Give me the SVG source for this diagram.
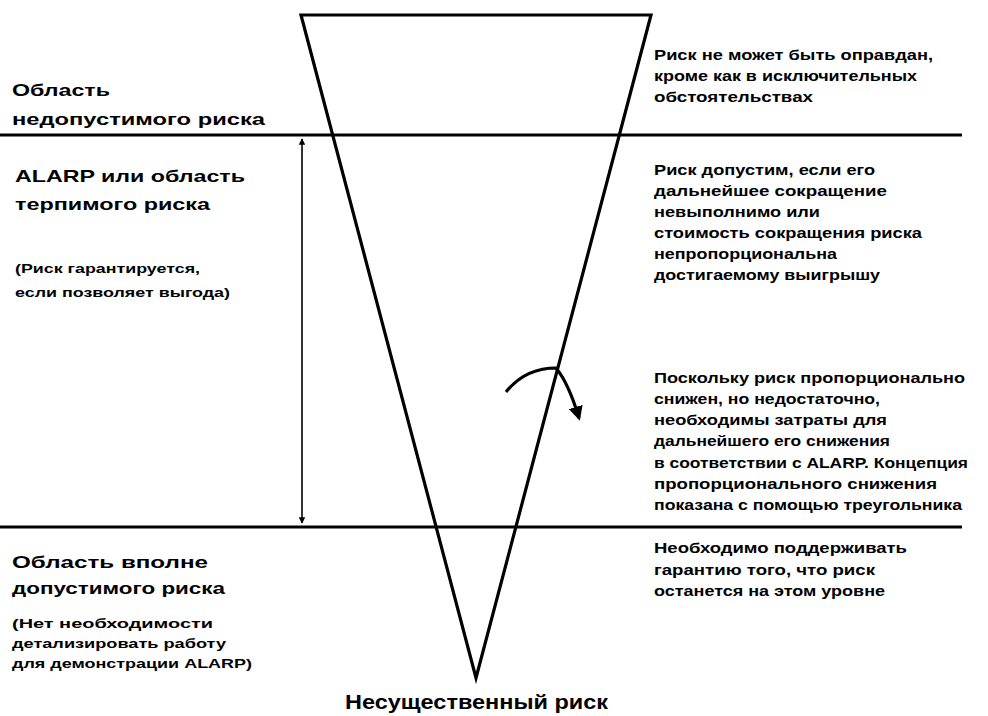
<svg xmlns="http://www.w3.org/2000/svg" width="988" height="716" viewBox="0 0 988 716">
<style>
.h{font-family:"Liberation Sans",Arial,sans-serif;font-weight:bold;font-size:17px;fill:#000}
.n{font-family:"Liberation Sans",Arial,sans-serif;font-weight:bold;font-size:13px;fill:#000}
.r{font-family:"Liberation Sans",Arial,sans-serif;font-weight:bold;font-size:14px;fill:#000}
.big{font-family:"Liberation Sans",Arial,sans-serif;font-weight:bold;font-size:20px;fill:#000}
.ln{stroke:#000;stroke-width:3.2;fill:none}
.thin{stroke:#000;stroke-width:1.6;fill:none}
</style>
<defs>
<marker id="ah" viewBox="0 0 10 10" refX="9" refY="5" markerWidth="4" markerHeight="4" orient="auto-start-reverse" markerUnits="strokeWidth">
<path d="M0,0 L10,5 L0,10 z" fill="#000"/>
</marker>
<marker id="ahc" viewBox="0 0 10 10" refX="8" refY="5" markerWidth="4.5" markerHeight="4.5" orient="auto" markerUnits="strokeWidth">
<path d="M0,0 L10,5 L0,10 z" fill="#000"/>
</marker>
</defs>
<rect width="988" height="716" fill="#fff"/>

<g id="triangle">
<path class="ln" d="M301,15 L651,15 L476,678 Z" stroke-linejoin="miter"/>
</g>

<g id="connectors">
<line class="ln" x1="0" y1="135" x2="962" y2="135"/>
<line class="ln" x1="0" y1="527" x2="962" y2="527"/>
<line class="thin" x1="302" y1="139" x2="302" y2="523" marker-start="url(#ah)" marker-end="url(#ah)"/>
<path class="ln" d="M506,392 C518,377 534,368 556,368 C566,380 573,398 579,418" marker-end="url(#ahc)"/>
</g>

<g id="zone-unacceptable">
<text class="h" x="12" y="96" textLength="98" lengthAdjust="spacingAndGlyphs">Область</text>
<text class="h" x="12" y="125" textLength="253" lengthAdjust="spacingAndGlyphs">недопустимого риска</text>
</g>

<g id="zone-alarp">
<text class="h" x="15" y="182" textLength="230" lengthAdjust="spacingAndGlyphs">ALARP или область</text>
<text class="h" x="15" y="210" textLength="195" lengthAdjust="spacingAndGlyphs">терпимого риска</text>
<text class="n" x="15" y="273" textLength="185" lengthAdjust="spacingAndGlyphs">(Риск гарантируется,</text>
<text class="n" x="15" y="297" textLength="215" lengthAdjust="spacingAndGlyphs">если позволяет выгода)</text>
</g>

<g id="zone-acceptable">
<text class="h" x="12" y="568" textLength="196" lengthAdjust="spacingAndGlyphs">Область вполне</text>
<text class="h" x="12" y="594" textLength="213" lengthAdjust="spacingAndGlyphs">допустимого риска</text>
<text class="n" x="12" y="628" textLength="201" lengthAdjust="spacingAndGlyphs">(Нет необходимости</text>
<text class="n" x="12" y="648" textLength="214" lengthAdjust="spacingAndGlyphs">детализировать работу</text>
<text class="n" x="12" y="668" textLength="240" lengthAdjust="spacingAndGlyphs">для демонстрации ALARP)</text>
</g>

<g id="note-unacceptable">
<text class="r" x="654" y="60" textLength="279" lengthAdjust="spacingAndGlyphs">Риск не может быть оправдан,</text>
<text class="r" x="654" y="81" textLength="263" lengthAdjust="spacingAndGlyphs">кроме как в исключительных</text>
<text class="r" x="654" y="102" textLength="159" lengthAdjust="spacingAndGlyphs">обстоятельствах</text>
</g>

<g id="note-tolerable">
<text class="r" x="654" y="175" textLength="221" lengthAdjust="spacingAndGlyphs">Риск допустим, если его</text>
<text class="r" x="654" y="196" textLength="233" lengthAdjust="spacingAndGlyphs">дальнейшее сокращение</text>
<text class="r" x="654" y="217" textLength="166" lengthAdjust="spacingAndGlyphs">невыполнимо или</text>
<text class="r" x="654" y="238" textLength="268" lengthAdjust="spacingAndGlyphs">стоимость сокращения риска</text>
<text class="r" x="654" y="259" textLength="183" lengthAdjust="spacingAndGlyphs">непропорциональна</text>
<text class="r" x="654" y="280" textLength="226" lengthAdjust="spacingAndGlyphs">достигаемому выигрышу</text>
</g>

<g id="note-alarp">
<text class="r" x="654" y="383" textLength="311" lengthAdjust="spacingAndGlyphs">Поскольку риск пропорционально</text>
<text class="r" x="654" y="404" textLength="226" lengthAdjust="spacingAndGlyphs">снижен, но недостаточно,</text>
<text class="r" x="654" y="425" textLength="233" lengthAdjust="spacingAndGlyphs">необходимы затраты для</text>
<text class="r" x="654" y="446" textLength="236" lengthAdjust="spacingAndGlyphs">дальнейшего его снижения</text>
<text class="r" x="654" y="468" textLength="314" lengthAdjust="spacingAndGlyphs">в соответствии с ALARP. Концепция</text>
<text class="r" x="654" y="489" textLength="283" lengthAdjust="spacingAndGlyphs">пропорционального снижения</text>
<text class="r" x="654" y="510" textLength="308" lengthAdjust="spacingAndGlyphs">показана с помощью треугольника</text>
</g>

<g id="note-acceptable">
<text class="r" x="654" y="553" textLength="253" lengthAdjust="spacingAndGlyphs">Необходимо поддерживать</text>
<text class="r" x="654" y="575" textLength="221" lengthAdjust="spacingAndGlyphs">гарантию того, что риск</text>
<text class="r" x="654" y="596" textLength="231" lengthAdjust="spacingAndGlyphs">останется на этом уровне</text>
</g>

<g id="label-negligible">
<text class="big" x="345" y="709" textLength="263" lengthAdjust="spacingAndGlyphs">Несущественный риск</text>
</g>
</svg>
